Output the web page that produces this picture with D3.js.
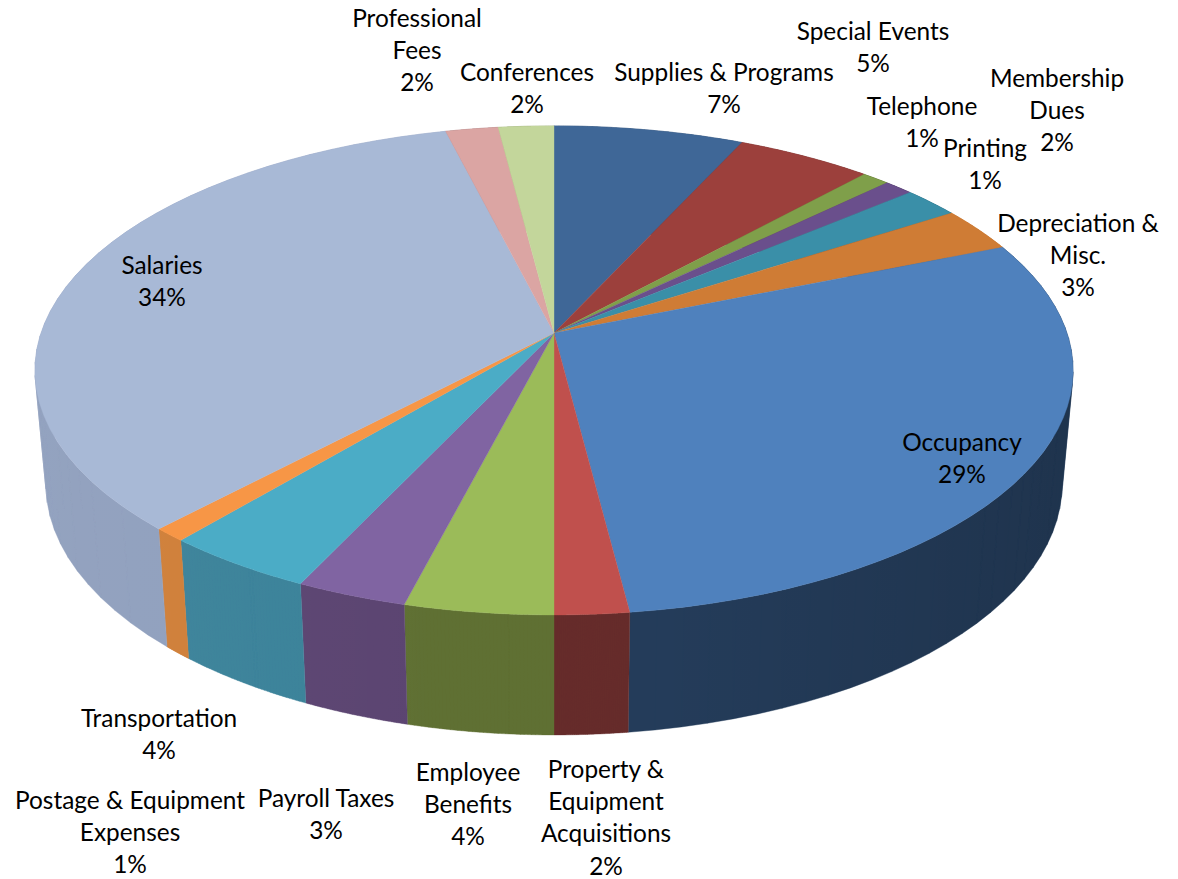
<!DOCTYPE html>
<html>
<head>
<meta charset="utf-8">
<script src="https://cdn.jsdelivr.net/npm/d3@7"></script>
<style>
body { margin: 0; background: #fff; }
text { font-family: Lato, "Open Sans", sans-serif; font-size: 24.4px; fill: #000; }
</style>
</head>
<body>
<svg></svg>
<script>
var categories = ["Supplies & Programs", "Special Events", "Telephone", "Printing", "Membership Dues",
    "Depreciation & Misc.", "Occupancy", "Property & Equipment Acquisitions", "Employee Benefits",
    "Payroll Taxes", "Transportation", "Postage & Equipment Expenses", "Salaries", "Professional Fees", "Conferences"];
var values = [6.85, 4.9, 1.0, 1.05, 2.05, 2.95, 29.2, 2.0, 4.0, 3.0, 4.1, 0.9, 34.1, 1.9, 2.0];
var percentLabels = ["7%", "5%", "1%", "1%", "2%", "3%", "29%", "2%", "4%", "3%", "4%", "1%", "34%", "2%", "2%"];

// how the category names wrap in the labels
var labelLines = [["Supplies & Programs"], ["Special Events"], ["Telephone"], ["Printing"], ["Membership", "Dues"],
    ["Depreciation &", "Misc."], ["Occupancy"], ["Property &", "Equipment", "Acquisitions"], ["Employee", "Benefits"],
    ["Payroll Taxes"], ["Transportation"], ["Postage & Equipment", "Expenses"], ["Salaries"], ["Professional", "Fees"], ["Conferences"]];
var labelSpots = [[724, 72], [873, 31], [922, 106], [985, 148], [1057, 78], [1078, 223], [962, 442], [606, 769],
    [468, 772], [326, 798], [159, 718], [130, 800], [162, 265], [417, 18], [527, 72]];

var topColors = ["#3f6797", "#9c403c", "#7f9f4a", "#6a4f8c", "#3a8fa8", "#cf7c35", "#4f81bd", "#c0504d",
    "#9bbb59", "#8064a2", "#4bacc6", "#f79646", "#a8b9d6", "#dba5a3", "#c3d69b"];
var sideColors = ["#2c4a6e", "#6e2d2a", "#5f7033", "#4b3866", "#2a6a7c", "#cf7e38", "#243c5a", "#662c2a",
    "#5f7033", "#5b4471", "#3a8299", "#cf7e38", "#8f9fbd", "#a07a78", "#8f9f70"];

var width = 1178,
    height = 879,
    cx = 554,
    cy = 333,
    radius = 513,
    tilt = 238.8,
    persp = 0.153,
    lineGap = 32.4;

var svg = d3.select("svg")
    .attr("width", width)
    .attr("height", height);

var pie = d3.pie().sort(null).value(function(d) { return d; });
var slices = pie(values);

// circle angle (clockwise from 12 o'clock) to the tilted picture plane
function project(a) {
    var u = Math.sin(a),
        v = -Math.cos(a),
        s = 1 / (1 - persp * v);
    return [cx + radius * u * s, cy + tilt * v * s];
}

function projectBottom(a) {
    var p = project(a),
        v = -Math.cos(a);
    return [cx + (p[0] - cx) * 0.979, p[1] + 112 + 8 * v];
}

function arcAngles(d) {
    return d3.range(0, 41).map(function(i) {
        return d.startAngle + (d.endAngle - d.startAngle) * i / 40;
    });
}

var line = d3.line();

var defs = svg.append("defs");
var shade = defs.append("linearGradient")
    .attr("id", "sideShade")
    .attr("gradientUnits", "userSpaceOnUse")
    .attr("x1", 35).attr("x2", 1073).attr("y1", 0).attr("y2", 0);
shade.append("stop").attr("offset", 0).attr("stop-color", "#fff").attr("stop-opacity", 0.04);
shade.append("stop").attr("offset", 0.4).attr("stop-color", "#fff").attr("stop-opacity", 0);
shade.append("stop").attr("offset", 0.6).attr("stop-color", "#000").attr("stop-opacity", 0);
shade.append("stop").attr("offset", 1).attr("stop-color", "#000").attr("stop-opacity", 0.14);

// one quad per arc step, so the wall also fills out past the ellipse at both ends
function sidePath(d) {
    var angles = arcAngles(d),
        quads = "";
    for (var i = 0; i < angles.length - 1; i++) {
        var pts = [project(angles[i]), project(angles[i + 1]),
            projectBottom(angles[i + 1]), projectBottom(angles[i])];
        // same winding for all of them, or nonzero fill punches holes
        if (d3.polygonArea(pts) < 0) pts.reverse();
        quads += line(pts) + "Z";
    }
    return quads;
}

svg.append("g").selectAll("path")
    .data(slices)
    .enter()
    .append("path")
    .attr("d", sidePath)
    .attr("fill", function(d, i) { return sideColors[i]; })
    .attr("stroke", function(d, i) { return sideColors[i]; })
    .attr("stroke-width", 0.4);

svg.append("g").selectAll("path")
    .data(slices)
    .enter()
    .append("path")
    .attr("d", sidePath)
    .attr("fill", "url(#sideShade)");

svg.append("g").selectAll("path")
    .data(slices)
    .enter()
    .append("path")
    .attr("d", function(d) {
        return line([[cx, cy]].concat(arcAngles(d).map(project))) + "Z";
    })
    .attr("fill", function(d, i) { return topColors[i]; })
    .attr("stroke", function(d, i) { return topColors[i]; })
    .attr("stroke-width", 0.4);

var labels = svg.append("g").selectAll("text")
    .data(categories)
    .enter()
    .append("text")
    .attr("text-anchor", "middle")
    .attr("x", function(d, i) { return labelSpots[i][0]; })
    .attr("y", function(d, i) { return labelSpots[i][1]; });

labels.each(function(d, i) {
    var lines = labelLines[i].concat([percentLabels[i]]);
    d3.select(this).selectAll("tspan")
        .data(lines)
        .enter()
        .append("tspan")
        .attr("x", labelSpots[i][0])
        .attr("y", function(t, j) { return labelSpots[i][1] + j * lineGap; })
        .attr("dy", "0.35em")
        .text(function(t) { return t; });
});
</script>
</body>
</html>
